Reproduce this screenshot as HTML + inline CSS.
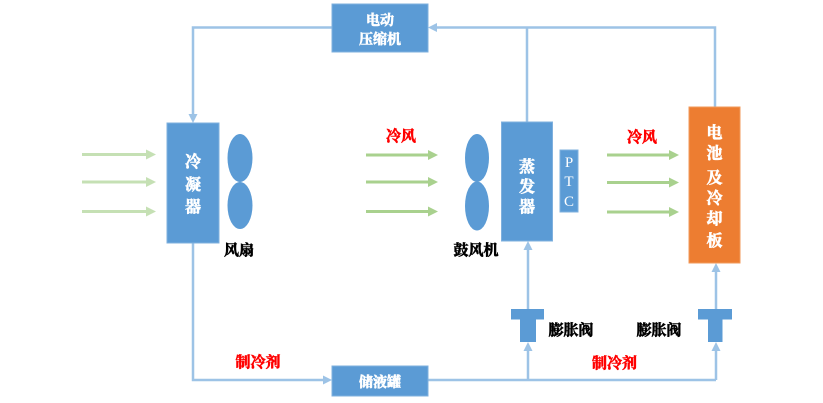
<!DOCTYPE html>
<html><head><meta charset="utf-8"><style>
html,body{margin:0;padding:0;background:#fff;}
svg{display:block;}
.w{fill:#fff;stroke:#fff;stroke-width:0.6;font-family:"Liberation Serif","Noto Serif CJK SC",serif;font-weight:bold;}
.k{fill:#000;stroke:#000;stroke-width:0.6;font-family:"Liberation Serif","Noto Serif CJK SC",serif;font-weight:bold;}
.r{fill:#ff0000;stroke:#ff0000;stroke-width:0.6;font-family:"Liberation Serif","Noto Serif CJK SC",serif;font-weight:bold;}
</style></head><body>
<svg width="823" height="403" viewBox="0 0 823 403" xmlns="http://www.w3.org/2000/svg">
<g stroke="#9dc3e6" stroke-width="2.5" fill="none">
  <polyline points="332,27.5 193,27.5 193,116"/>
  <polyline points="436,27.5 715,27.5 715,107"/>
  <line x1="527" y1="27.5" x2="527" y2="122"/>
  <polyline points="193,243 193,380 324,380"/>
  <line x1="428" y1="380" x2="716" y2="380"/>
  <line x1="528" y1="380" x2="528" y2="350"/>
  <line x1="716" y1="380" x2="716" y2="350"/>
  <line x1="528" y1="309" x2="528" y2="249"/>
  <line x1="716" y1="309" x2="716" y2="271"/>
</g>
<g fill="#9dc3e6">
  <polygon points="193,123 188.5,114 197.5,114"/>
  <polygon points="428,27.5 437,23 437,32"/>
  <polygon points="332,380 323,375.5 323,384.5"/>
  <polygon points="528,241 523.5,250 532.5,250"/>
  <polygon points="716,263 711.5,272 720.5,272"/>
  <polygon points="528,342 523.5,351 532.5,351"/>
  <polygon points="716,342 711.5,351 720.5,351"/>
</g>
<g stroke="#c5e0b4" stroke-width="3">
  <line x1="82" y1="154.5" x2="148" y2="154.5"/>
  <line x1="82" y1="182" x2="148" y2="182"/>
  <line x1="82" y1="211.5" x2="148" y2="211.5"/>
</g>
<g fill="#c5e0b4">
  <polygon points="156,154.5 146,149.5 146,159.5"/>
  <polygon points="156,182 146,177 146,187"/>
  <polygon points="156,211.5 146,206.5 146,216.5"/>
</g>
<g stroke="#a9d18e" stroke-width="3">
  <line x1="366" y1="155" x2="430" y2="155"/>
  <line x1="366" y1="182" x2="430" y2="182"/>
  <line x1="366" y1="211.5" x2="430" y2="211.5"/>
  <line x1="607" y1="155" x2="671" y2="155"/>
  <line x1="607" y1="182.5" x2="671" y2="182.5"/>
  <line x1="607" y1="212" x2="671" y2="212"/>
</g>
<g fill="#a9d18e">
  <polygon points="438,155 428,150 428,160"/>
  <polygon points="438,182 428,177 428,187"/>
  <polygon points="438,211.5 428,206.5 428,216.5"/>
  <polygon points="679,155 669,150 669,160"/>
  <polygon points="679,182.5 669,177.5 669,187.5"/>
  <polygon points="679,212 669,207 669,217"/>
</g>
<g fill="#5b9bd5" stroke="#7fb0de" stroke-width="1">
  <rect x="332" y="4" width="96" height="48"/>
  <rect x="167" y="123" width="52" height="120"/>
  <rect x="501.5" y="122" width="51" height="119"/>
  <rect x="560" y="150" width="18" height="62"/>
  <rect x="332" y="366" width="96" height="30"/>
</g>
<rect x="689" y="107" width="51" height="156" fill="#ed7d31" stroke="#f19a5b" stroke-width="1"/>
<g fill="#5b9bd5">
  <ellipse cx="240" cy="158" rx="12.5" ry="24"/>
  <ellipse cx="240" cy="205.5" rx="12.5" ry="23.5"/>
  <ellipse cx="477" cy="158" rx="12" ry="24"/>
  <ellipse cx="477" cy="206" rx="12" ry="24.5"/>
</g>
<g fill="#5b9bd5">
  <rect x="511" y="309" width="33" height="10.5"/>
  <rect x="520" y="319" width="16" height="23"/>
  <rect x="698" y="309" width="34" height="10.5"/>
  <rect x="708" y="319" width="14.5" height="23"/>
</g>
<g class="w" font-size="14" text-anchor="middle">
  <text x="380" y="25">电动</text>
  <text x="380" y="44">压缩机</text>
  <text x="380" y="387">储液罐</text>
</g>
<g class="w" font-size="16" text-anchor="middle">
  <text x="193" y="167">冷</text>
  <text x="193" y="190">凝</text>
  <text x="193" y="212">器</text>
  <text x="527" y="172">蒸</text>
  <text x="527" y="192">发</text>
  <text x="527" y="212">器</text>
  <text x="714.5" y="138">电</text>
  <text x="714.5" y="158.5">池</text>
  <text x="714.5" y="183">及</text>
  <text x="714.5" y="203.5">冷</text>
  <text x="714.5" y="224">却</text>
  <text x="714.5" y="246">板</text>
</g>
<g font-family="Liberation Serif, serif" font-size="15" fill="#fff" text-anchor="middle">
  <text x="569" y="167">P</text>
  <text x="569" y="186">T</text>
  <text x="569" y="206">C</text>
</g>
<g class="k" font-size="15" text-anchor="middle">
  <text x="239" y="255">风扇</text>
  <text x="476" y="255">鼓风机</text>
  <text x="571" y="335">膨胀阀</text>
  <text x="659" y="335">膨胀阀</text>
</g>
<g class="r" font-size="15" text-anchor="middle">
  <text x="401" y="141">冷风</text>
  <text x="642" y="142">冷风</text>
  <text x="258" y="367">制冷剂</text>
  <text x="614.5" y="368">制冷剂</text>
</g>
</svg>
</body></html>
